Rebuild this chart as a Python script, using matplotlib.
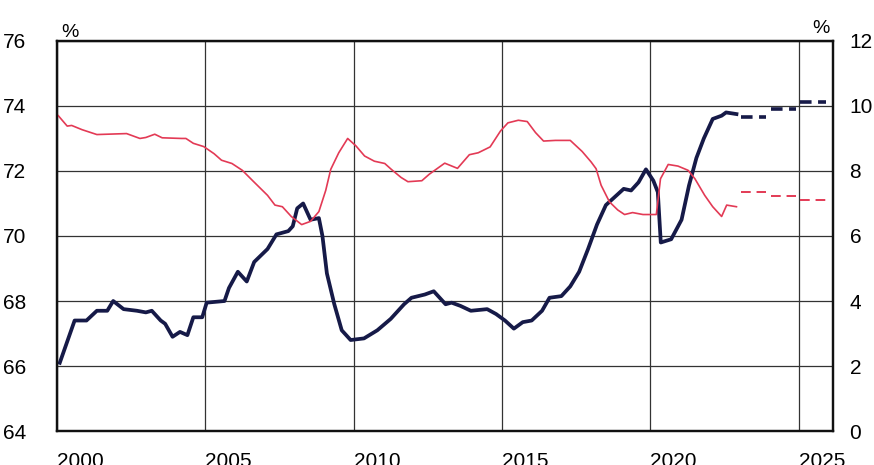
import numpy as np
from matplotlib import pyplot as plt

plt.rcParams['font.family'] = ['Liberation Sans', 'DejaVu Sans']

# employment rate, % (left axis)
emp_years = [2000.1, 2000.6, 2001.0, 2001.35, 2001.7, 2001.9, 2002.25, 2002.7, 2003.0, 2003.2,
             2003.5, 2003.65, 2003.9, 2004.15, 2004.4, 2004.6, 2004.9, 2005.05, 2005.65, 2005.8,
             2006.1, 2006.4, 2006.65, 2007.1, 2007.4, 2007.8, 2007.95, 2008.1, 2008.3, 2008.55,
             2008.83, 2008.95, 2009.1, 2009.35, 2009.6, 2009.9, 2010.35, 2010.8, 2011.25, 2011.7,
             2011.95, 2012.4, 2012.7, 2013.1, 2013.3, 2013.6, 2013.95, 2014.5, 2014.8, 2015.1,
             2015.4, 2015.7, 2016.0, 2016.35, 2016.6, 2017.0, 2017.3, 2017.6, 2017.9, 2018.2,
             2018.5, 2018.8, 2019.1, 2019.35, 2019.6, 2019.85, 2020.1, 2020.25, 2020.35, 2020.7,
             2021.05, 2021.3, 2021.55, 2021.8, 2022.1, 2022.4, 2022.55, 2022.9]
emp_rate = [66.1, 67.4, 67.4, 67.7, 67.7, 68.0, 67.75, 67.7, 67.65, 67.7,
            67.4, 67.3, 66.9, 67.05, 66.95, 67.5, 67.5, 67.95, 68.0, 68.4,
            68.9, 68.6, 69.2, 69.6, 70.05, 70.15, 70.3, 70.85, 71.0, 70.5,
            70.55, 70.0, 68.85, 67.9, 67.1, 66.8, 66.85, 67.1, 67.45, 67.9,
            68.1, 68.2, 68.3, 67.9, 67.95, 67.85, 67.7, 67.75, 67.6, 67.4,
            67.15, 67.35, 67.4, 67.7, 68.1, 68.15, 68.45, 68.9, 69.6, 70.35,
            70.95, 71.2, 71.45, 71.4, 71.65, 72.05, 71.7, 71.35, 69.8, 69.9,
            70.5, 71.55, 72.4, 73.0, 73.6, 73.7, 73.8, 73.75]

# unemployment rate, % (right axis)
unemp_years = [2000.05, 2000.35, 2000.5, 2000.85, 2001.35, 2002.35, 2002.8, 2003.0, 2003.3, 2003.55,
               2004.2, 2004.35, 2004.6, 2004.95, 2005.3, 2005.55, 2005.9, 2006.25, 2006.6, 2007.1,
               2007.35, 2007.6, 2007.9, 2008.25, 2008.55, 2008.83, 2009.06, 2009.23, 2009.5, 2009.8,
               2010.08, 2010.37, 2010.7, 2011.05, 2011.27, 2011.6, 2011.83, 2012.3, 2012.55, 2013.07,
               2013.5, 2013.9, 2014.2, 2014.6, 2014.95, 2015.2, 2015.55, 2015.85, 2016.13, 2016.4,
               2016.8, 2017.3, 2017.7, 2018.0, 2018.17, 2018.34, 2018.62, 2018.9, 2019.13, 2019.4,
               2019.75, 2020.2, 2020.34, 2020.6, 2020.93, 2021.27, 2021.5, 2021.83, 2022.1, 2022.4,
               2022.57, 2022.9]
unemp_rate = [9.7, 9.38, 9.4, 9.27, 9.12, 9.15, 9.0, 9.03, 9.13, 9.02,
              9.0, 9.0, 8.85, 8.75, 8.53, 8.33, 8.23, 8.02, 7.7, 7.25,
              6.95, 6.9, 6.6, 6.35, 6.45, 6.75, 7.4, 8.05, 8.56, 9.0,
              8.77, 8.46, 8.3, 8.23, 8.05, 7.8, 7.67, 7.7, 7.9, 8.24,
              8.08, 8.5, 8.56, 8.74, 9.23, 9.48, 9.56, 9.52, 9.18, 8.92,
              8.94, 8.94, 8.6, 8.28, 8.07, 7.56, 7.05, 6.8, 6.66, 6.72,
              6.66, 6.66, 7.76, 8.2, 8.15, 8.02, 7.76, 7.25, 6.9, 6.6,
              6.95, 6.9]

# annual forecasts
fc_years = [2023, 2024, 2025]
fc_emp = [73.65, 73.9, 74.13]
fc_unemp = [7.35, 7.22, 7.12]

navy = '#161a48'
red = '#e33a55'

fig = plt.figure(figsize=(8.74, 4.65), dpi=100)
ax = fig.add_axes([0.065, 0.073, 0.888, 0.839])
ax2 = ax.twinx()

ax.plot(emp_years, emp_rate, color=navy, lw=2.7, zorder=3)
ax.hlines(fc_emp, np.array(fc_years) + 0.05, np.array(fc_years) + 0.9,
          colors=navy, lw=2.6, linestyles=(0, (3.2, 1.8)))
ax2.plot(unemp_years, unemp_rate, color=red, lw=1.2)
ax2.hlines(fc_unemp, np.array(fc_years) + 0.05, np.array(fc_years) + 0.9,
           colors=red, lw=1.4, linestyles=(0, (5, 3)))

ax.set_xlim(2000, 2026.15)
ax.set_ylim(64, 76)
ax2.set_ylim(0, 12)
ax.set_xticks([2000, 2005, 2010, 2015, 2020, 2025])
ax.set_yticks(range(64, 77, 2))
ax2.set_yticks(range(0, 13, 2))

ax.grid(True, color='#333333', lw=0.9)
ax.set_axisbelow(True)
ax.tick_params(axis='both', length=0, labelsize=15)
ax.tick_params(axis='y', pad=22)
ax.tick_params(axis='x', pad=15)
for lab in ax.get_xticklabels():
    lab.set_horizontalalignment('left')
ax2.tick_params(axis='y', length=0, labelsize=15, pad=12)

for a in (ax, ax2):
    for s in a.spines.values():
        s.set_linewidth(1.6)
        s.set_color('#111111')

ax.text(0.006, 1.0, '%', transform=ax.transAxes, fontsize=14, ha='left', va='bottom')
ax2.text(0.996, 1.01, '%', transform=ax.transAxes, fontsize=14, ha='right', va='bottom')

fig.savefig('out.png', dpi=100)
